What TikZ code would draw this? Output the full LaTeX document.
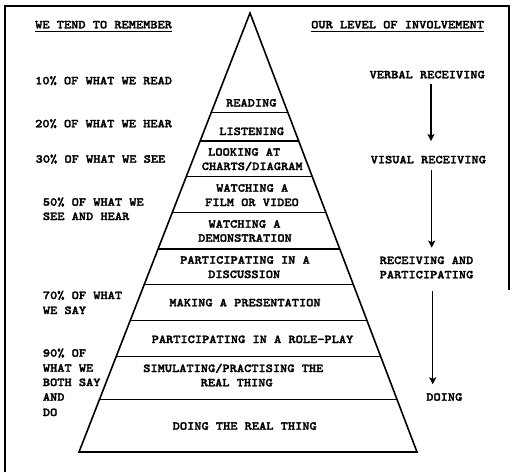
\documentclass[tikz,border=0pt]{standalone}
\usepackage{fontspec}
\usetikzlibrary{arrows.meta,calc}
% heavy typewriter face, widened to a Courier-like pitch
\newfontfamily\typefont{lmmonolt10-bold.otf}[FakeStretch=1.143,FakeBold=2.2]
\begin{document}
\begin{tikzpicture}[x=1pt,y=-1pt,
  txt/.style={font=\typefont\fontsize{12}{14}\selectfont, inner sep=0pt, anchor=base},
  txtl/.style={txt, anchor=base west},
  side/.style={line width=1.6pt, line join=miter},
  tier/.style={line width=1.3pt},
  frame/.style={line width=1.1pt},
  arr/.style={line width=1.1pt, -{Stealth[length=7pt,width=7pt,inset=1.5pt]}},
  uline/.style={line width=0.9pt}]
\useasboundingbox (0,0) rectangle (514,472);

% open frame
\draw[frame] (5,472) -- (5,6) -- (509,6) -- (509,290);

% pyramid outline
\coordinate (apex) at (250,13);
\coordinate (bl) at (79,452);
\coordinate (br) at (417,452);
\draw[side] (bl) -- (apex) -- (br) -- cycle;

% tier dividers
\foreach \yy in {112.7,141,176.7,212.7,249,284.7,320.7,356.3,399.7}{
  \pgfmathsetmacro\tierpos{(\yy-13)/439}
  \draw[tier] ($(apex)!\tierpos!(bl)$) -- ($(apex)!\tierpos!(br)$);
}

% tier labels
\node[txt] (p1)  at (251.3,106.5) {READING};
\node[txt] (p2)  at (251.7,135)   {LISTENING};
\node[txt] (p3a) at (244.2,155.7) {LOOKING AT};
\node[txt] (p3b) at (252.2,170)   {CHARTS/DIAGRAM};
\node[txt] (p4a) at (252.2,191.7) {WATCHING A};
\node[txt] (p4b) at (252,206)     {FILM OR VIDEO};
\node[txt] (p5a) at (244.5,227.7) {WATCHING A};
\node[txt] (p5b) at (245,241.7)   {DEMONSTRATION};
\node[txt] (p6a) at (245,263.7)   {PARTICIPATING IN A};
\node[txt] (p6b) at (244.2,278)   {DISCUSSION};
\node[txt] (p7)  at (245,306.3)   {MAKING A PRESENTATION};
\node[txt] (p8)  at (252.5,343)   {PARTICIPATING IN A ROLE-PLAY};
\node[txt] (p9a) at (233.3,372)   {SIMULATING/PRACTISING THE};
\node[txt] (p9b) at (236.7,386.3) {REAL THING};
\node[txt] (p10) at (244.7,429.7) {DOING THE REAL THING};

% left column: retention
\node[txtl] (remh) at (35,28.3) {WE TEND TO REMEMBER};
\draw[uline] ([yshift=-2.7pt]remh.base west) -- ([yshift=-2.7pt]remh.base east);
\node[txtl] (r10)  at (35,84.3)    {10\% OF WHAT WE READ};
\node[txtl] (r20)  at (35,127.3)   {20\% OF WHAT WE HEAR};
\node[txtl] (r30)  at (35.5,162.7) {30\% OF WHAT WE SEE};
\node[txtl] (r50a) at (42.7,205.7) {50\% OF WHAT WE};
\node[txtl] (r50b) at (42.7,220)   {SEE AND HEAR};
\node[txtl] (r70a) at (42.7,299)   {70\% OF WHAT};
\node[txtl] (r70b) at (42.7,314)   {WE SAY};
\node[txtl] (r90a) at (42.7,356.7) {90\% OF};
\node[txtl] (r90b) at (42.7,371.7) {WHAT WE};
\node[txtl] (r90c) at (42.7,386)   {BOTH SAY};
\node[txtl] (r90d) at (42.7,400.7) {AND};
\node[txtl] (r90e) at (42.7,416)   {DO};

% right column: involvement
\node[txtl] (invh) at (311,28.3) {OUR LEVEL OF INVOLVEMENT};
\draw[uline] ([yshift=-2.7pt]invh.base west) -- ([yshift=-2.7pt]invh.base east);
\node[txt] (verbal) at (427.2,78.3)  {VERBAL RECEIVING};
\node[txt] (visual) at (428.3,163.3) {VISUAL RECEIVING};
\node[txt] (recva)  at (426.5,264)   {RECEIVING AND};
\node[txt] (recvb)  at (426.5,278.3) {PARTICIPATING};
\node[txt] (doing)  at (444.3,400.7) {DOING};

\draw[arr, shorten <=5pt, shorten >=14.6pt]
  ([xshift=3.8pt]verbal.south) -- ([xshift=3.8pt]verbal.south |- visual.north);
\draw[arr, shorten <=6pt, shorten >=8.7pt]
  ([xshift=3.4pt]visual.south) -- ([xshift=3.4pt]visual.south |- recva.north);
\draw[arr, shorten <=12.4pt, shorten >=8.7pt]
  ([xshift=6.2pt]recvb.south) -- ([xshift=6.2pt]recvb.south |- doing.north);
\end{tikzpicture}
\end{document}
